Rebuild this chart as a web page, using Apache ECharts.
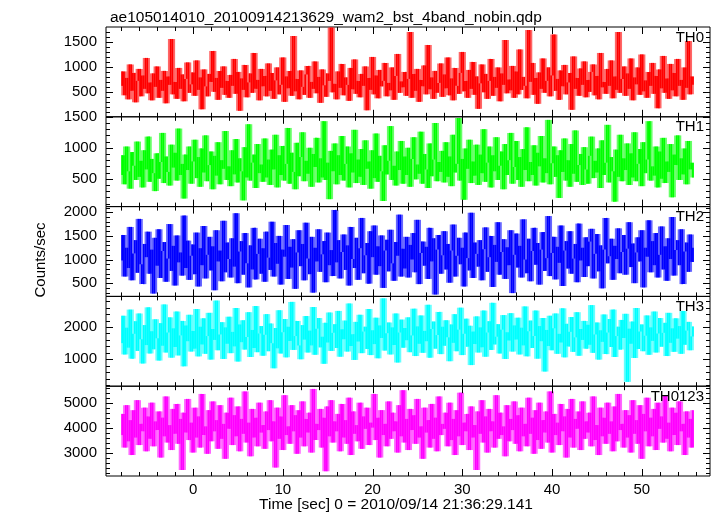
<!DOCTYPE html>
<html><head><meta charset="utf-8">
<script src="https://cdn.jsdelivr.net/npm/echarts@6/dist/echarts.min.js"></script>
<style>html,body{margin:0;padding:0;background:#fff}#c{width:717px;height:516px}</style>
</head><body><div id="c"></div>
<script>
const titleText = "ae105014010_20100914213629_wam2_bst_4band_nobin.qdp";
const xTitle = "Time [sec] 0 = 2010/09/14 21:36:29.141";
const yTitle = "Counts/sec";
const bandNames = ["TH0", "TH1", "TH2", "TH3", "TH0123"];
const tStart = -8, tStep = 0.2;

const th0 = [
620,910,430,780,350,1050,520,880,290,720,960,410,830,560,1180,470,690,330,870,600,
1010,380,740,520,920,270,810,640,1560,450,700,360,980,560,850,310,760,1090,480,650,
890,420,1130,540,790,150,950,610,410,860,700,1320,500,780,340,920,580,1010,440,720,
380,840,620,1160,460,900,120,770,540,1040,390,690,870,480,1280,560,740,330,960,610,
820,410,1070,520,880,360,730,990,450,640,1190,300,810,570,920,420,1620,510,760,350,
930,600,440,850,1020,380,700,560,1110,470,800,280,950,630,400,870,720,1790,490,660,
350,910,580,1060,430,790,640,320,980,550,1150,460,720,390,860,620,1010,130,780,540,
1200,450,830,370,940,610,720,1080,410,680,530,990,340,820,1260,480,710,590,900,420,
760,1700,380,860,520,960,300,740,610,1030,450,1440,550,790,360,920,480,680,1070,400,
850,570,1190,430,770,330,980,620,460,880,1300,510,720,380,940,560,1100,440,810,160,
670,1050,490,860,360,720,1160,420,800,580,990,310,870,640,1540,470,750,530,1020,380,
910,450,1350,540,800,620,370,1740,700,1080,440,780,260,890,560,1170,480,720,990,410,
830,1650,520,760,340,930,610,1040,450,690,880,140,1210,560,780,420,970,640,1110,390,
740,500,900,1050,430,820,350,1280,590,700,460,960,620,1130,370,810,540,1700,480,760,
1010,420,870,560,1170,330,790,650,990,440,1250,510,730,380,900,620,1080,460,820,170,
950,570,1220,480,770,360,1060,530,880,410,1160,620,740,340,990,580,1520,450,810,640];

const th1 = [
560,880,410,1020,620,340,930,710,480,1100,530,790,360,960,650,1180,450,820,590,300,
910,500,770,1240,430,860,610,390,1050,680,920,470,1310,560,740,180,890,640,1020,420,
780,1130,510,850,370,990,600,1200,460,720,940,330,870,550,1090,410,800,660,1270,480,
700,380,960,570,1140,440,830,620,150,1010,520,1380,470,760,890,350,1060,590,730,450,
1150,520,810,400,970,650,1210,360,880,560,1030,470,740,1320,420,920,610,330,1080,540,
850,1250,460,790,580,1000,370,900,690,1160,440,830,520,1430,480,760,170,950,620,1070,
410,880,560,1190,470,740,1020,360,910,600,1290,430,810,530,980,400,1120,660,780,340,
960,510,1230,450,870,620,140,1040,570,790,1350,480,710,390,940,640,1110,420,860,560,
1000,370,820,1170,490,730,580,1260,420,900,650,350,1070,540,810,1400,460,770,610,950,
440,1090,530,860,380,1210,600,740,1480,470,820,160,990,660,1130,430,780,550,1050,400,
890,590,1300,450,760,1020,360,880,620,1170,480,710,940,330,1060,560,800,1240,420,690,
1110,480,850,370,980,640,1330,460,770,560,1040,390,920,700,1190,440,830,590,1450,410,
750,1020,530,880,190,960,610,1150,470,800,370,1060,580,1280,450,720,900,400,1010,650,
420,870,1180,510,790,600,990,350,1120,560,760,1370,440,850,620,130,970,530,1210,460,
830,640,1070,400,910,520,1250,460,740,980,380,1090,590,810,1430,470,700,550,1020,360,
940,500,1160,430,780,610,1060,200,890,720,1200,480,830,570,990,410,1110,650,760,520];

const th2 = [
980,1520,640,1250,820,1690,560,1130,1410,720,1860,900,480,1330,1050,1590,700,1210,280,1460,
870,1640,610,1180,1370,530,1020,1750,760,1290,450,1510,940,1150,660,1930,820,1400,570,1080,
1320,690,1570,430,1240,880,1710,600,1100,1480,770,1280,350,1620,960,1190,540,1820,730,1360,
1010,620,1450,850,1980,500,1170,1390,680,1560,920,410,1300,790,1670,580,1120,1440,700,1240,
530,1590,1040,780,1800,640,1350,910,1500,470,1210,1060,1730,590,1270,830,1430,380,1150,1620,
860,1330,560,1780,1020,690,1480,300,1250,960,1640,740,1110,1390,520,1570,880,1200,650,2050,
940,1410,600,1160,1530,780,1300,450,1690,1010,820,1460,570,1240,1880,710,1090,1350,490,1600,
1050,1720,680,1280,860,1510,400,1190,1420,750,1630,920,550,1370,1080,1950,640,1230,810,1480,
620,1310,1000,1560,730,1840,480,1140,1380,870,1270,590,1670,960,1450,260,1210,1520,700,1090,
1600,790,1330,510,1190,1740,640,1080,1460,900,1250,430,1570,1030,770,1990,610,1360,1120,850,
1410,560,1220,1680,740,1050,1500,420,1310,950,1790,680,1160,1430,590,1260,880,1620,290,1100,
1550,830,1290,620,1850,1000,710,1440,540,1180,1670,890,1350,470,1210,1580,760,1030,1920,650,
1140,1480,580,1270,930,1720,440,1190,1390,810,1600,700,1020,1330,520,1760,980,1250,630,1470,
860,1380,1650,600,1120,1540,750,1300,390,1210,1880,920,1070,1440,570,1290,1010,1660,710,1160,
1520,680,1230,1790,840,1340,500,1150,1470,960,1620,410,1250,1060,1830,730,1390,880,1560,620,
1100,1700,790,1280,550,1450,1010,1900,660,1200,1410,880,1640,480,1170,1360,740,1530,950,1250];

const th3 = [
1500,2350,1150,1980,1360,2540,1020,1790,2180,1260,2420,1620,870,2060,1440,2610,1180,1870,1310,2240,
1650,960,2120,1420,2700,1210,1830,2300,1050,1960,1380,2480,1120,1740,2190,780,2050,1560,2380,1240,
1880,1330,2560,1090,2010,1460,2270,1170,1720,2440,990,1940,1600,2820,1280,1770,2150,1010,1990,1480,
2320,1190,1850,1400,2590,930,2080,1530,2210,1300,1690,2460,1070,1910,1350,2650,1220,1800,2030,1110,
1760,2400,1250,2110,1500,720,1970,1340,2520,1180,1840,2250,1060,2010,1570,2780,1290,1720,2190,1430,
1000,2060,1610,2340,1210,1890,1430,2620,1140,1950,2280,1370,1700,860,2130,1520,2450,1260,1820,2090,
1350,2500,1080,1930,1620,2200,1240,2730,1410,1780,980,2160,1550,2380,1190,1860,2010,1320,2560,1130,
1900,1470,2290,1030,2050,1660,2890,1270,1810,2140,1150,1990,1440,2420,900,1830,2230,1360,1970,1590,
2300,1220,1740,2570,1100,2020,1480,2360,1200,1880,1560,2690,1050,1940,2170,1330,1750,2470,1160,2010,
1420,2210,1680,940,2080,1510,2400,1250,1920,2600,1130,1790,2260,1390,2040,820,1860,1470,2330,1210,
1990,1370,2510,1080,1830,2180,1290,2750,1460,1700,2090,1180,1920,2370,1010,1840,1580,2430,1240,2050,
1610,2290,1150,1980,1430,2640,1090,1870,2200,1350,1720,2510,1020,2030,1560,2280,620,1910,1410,2350,
1280,1960,2420,1170,1790,1520,2580,1060,2100,1400,1850,2310,1230,1680,2460,1110,1940,1600,2190,1330,
2070,1450,2680,1200,1770,2140,990,1900,1540,2390,1160,1830,2250,1380,2540,1070,1720,2010,1300,2220,
1660,2410,300,1950,1480,2170,1040,2590,1320,1860,2080,1250,1730,2360,1140,1990,1570,2480,1210,1800,
2280,1390,1820,2130,1100,2440,1510,1960,1230,2270,1640,2030,1170,2500,1450,1890,2160,1280,1710,2020];

const th0123 = [
3700,4550,3200,4900,3450,4300,2900,4700,3600,5100,3300,4150,3850,4800,3050,4450,3550,5000,3250,4250,
3900,4650,2800,4400,3650,5250,3400,4100,3100,4750,3750,4950,3350,4350,2300,4600,3800,5150,3500,4200,
3000,4800,3600,4450,3200,5350,3700,4050,2950,4700,3450,5050,3850,4300,3150,4900,3550,4150,2750,4600,
3950,5200,3300,4500,3650,4850,3050,4350,3750,5450,3400,4200,2850,4750,3600,4400,3250,5000,3800,4100,
3150,4650,3900,5100,3450,4250,2400,4800,3550,4450,3100,5300,3700,4050,3350,4900,3850,4500,2950,4700,
3600,5050,3250,4350,3800,4600,3000,5550,3500,4150,3900,4750,3200,4400,2250,4850,3650,5100,3400,4250,
3850,4550,3050,4950,3600,4300,3350,5200,2900,4650,3750,4100,3450,5000,3150,4450,3950,4800,3300,4200,
4000,5350,3500,4400,2800,4700,3700,4150,3250,5050,3550,4600,3850,4250,3000,4900,3650,5500,3400,4350,
3100,4750,3900,4500,3350,5150,3600,4050,2750,4800,3800,4300,3200,4950,3550,4400,3050,5250,3700,4150,
3950,4600,3250,5000,3500,4350,2900,4700,3650,5400,3300,4200,3850,4550,3100,4850,3600,4100,2300,4650,
3750,5100,3400,4450,3000,4750,3850,4250,3200,5300,3550,4600,3700,4050,2850,4900,3450,4350,3900,5050,
3350,4500,3050,4800,3650,4150,3250,5200,3750,4400,2950,4700,3500,5000,3150,4300,3800,4650,3400,5450,
3000,4550,3700,4200,3300,4950,3850,4450,2800,4750,3600,5150,3200,4350,3950,4650,3100,5050,3550,4250,
3800,4600,3250,5250,3500,4100,2900,4800,3650,4400,3350,5000,3750,4250,3050,4850,3450,5350,3900,4150,
3200,4700,3600,4500,3000,5100,3750,4300,3350,4900,2750,4550,3850,5200,3250,4400,3650,4750,3100,5000,
3950,4450,3400,5300,3550,4200,3050,4800,3700,4600,3300,5050,3850,4150,2900,4650,3600,4350,3200,4700];

// axis ranges
const xMin = -9.7, xMax = 57.6;
const yMin = [0, 50, 220, 165, 2060];
const yMax = [1800, 1500, 2120, 2950, 5660];
// tick sets: [first, last, step]
const xMajorTicks = [0, 50, 10];
const xMinorTicks = [-8, 56, 2];
const yMajorTicks = [[500, 1500, 500], [500, 1500, 500], [500, 2000, 500], [1000, 2000, 1000], [3000, 5000, 1000]];
const yMinorTicks = [[100, 1700, 100], [100, 1500, 100], [300, 2100, 100], [200, 2800, 200], [2200, 5600, 200]];
const colors = ['#ff0000', '#00ff00', '#0000ff', '#00ffff', '#ff00ff'];
const fringeColors = ['rgba(255,0,0,0.6)', 'rgba(0,255,0,0.6)', 'rgba(0,0,255,0.6)', 'rgba(0,255,255,0.6)', 'rgba(255,0,255,0.6)'];

const bands = [th0, th1, th2, th3, th0123];
const times = th0.map((_, k) => +(tStart + k * tStep).toFixed(3));

const font = "'Liberation Sans', Helvetica, Arial, sans-serif";
const gl = 106, gr = 710, gt = 27, gb = 476;
const ph = (gb - gt) / 5;
const black = '#000';
const fmt = v => String(v);
const MAJOR = 7, MINOR = 4;

function tickList(tk) {
  const out = [];
  for (let v = tk[0]; v <= tk[1] + 1e-9; v += tk[2]) out.push(Math.round(v * 1000) / 1000);
  return out;
}
const xMajorVals = tickList(xMajorTicks);
const xMinorVals = tickList(xMinorTicks);

function columnItem(color) {
  return function (params, api) {
    const t0 = api.value(0), t1 = api.value(1), a = api.value(2), b = api.value(3);
    const p1 = api.coord([t0, Math.max(a, b)]);
    const p2 = api.coord([t1, Math.min(a, b)]);
    const cs = params.coordSys;
    const r = echarts.graphic.clipRectByRect(
      { x: p1[0], y: p1[1], width: p2[0] - p1[0], height: Math.max(p2[1] - p1[1], 1) },
      { x: cs.x, y: cs.y, width: cs.width, height: cs.height });
    return r ? { type: 'rect', shape: r, style: { fill: color } } : null;
  };
}
function xTickItem(params, api) {
  const cs = params.coordSys;
  const x = Math.round(api.coord([api.value(0), 0])[0]) + 0.5;
  const len = api.value(1);
  const yb = cs.y + cs.height, yt = cs.y;
  return { type: 'group', children: [
    { type: 'line', shape: { x1: x, y1: yb, x2: x, y2: yb - len }, style: { stroke: black, lineWidth: 1 } },
    { type: 'line', shape: { x1: x, y1: yt, x2: x, y2: yt + len }, style: { stroke: black, lineWidth: 1 } }] };
}
function yTickItem(params, api) {
  const cs = params.coordSys;
  const y = Math.round(api.coord([0, api.value(1)])[1]) + 0.5;
  const len = api.value(0);
  const xl = cs.x, xr = cs.x + cs.width;
  return { type: 'group', children: [
    { type: 'line', shape: { x1: xl, y1: y, x2: xl + len, y2: y }, style: { stroke: black, lineWidth: 1 } },
    { type: 'line', shape: { x1: xr, y1: y, x2: xr - len, y2: y }, style: { stroke: black, lineWidth: 1 } }] };
}

const grids = [], xAxes = [], yAxes = [], series = [], graphics = [];

for (let i = 0; i < 5; i++) {
  const top = gt + i * ph;
  const vals = bands[i];
  grids.push({ left: gl, top: top, width: gr - gl, height: ph, show: true, borderColor: black, borderWidth: 1, backgroundColor: 'transparent' });
  xAxes.push({ gridIndex: i, type: 'value', min: xMin, max: xMax, position: 'bottom',
    splitLine: { show: false }, axisLine: { show: false, onZero: false }, axisTick: { show: false },
    axisLabel: { show: i === 4, customValues: xMajorVals, formatter: fmt, margin: 6, fontSize: 15, color: black, fontFamily: font } });
  const yMaj = tickList(yMajorTicks[i]);
  yAxes.push({ gridIndex: i, type: 'value', min: yMin[i], max: yMax[i], position: 'left',
    splitLine: { show: false }, axisLine: { show: false, onZero: false }, axisTick: { show: false },
    axisLabel: { show: true, customValues: yMaj, formatter: fmt, margin: 9, fontSize: 15, color: black, fontFamily: font } });

  series.push({
    type: 'custom', xAxisIndex: i, yAxisIndex: i, renderItem: columnItem(fringeColors[i]),
    encode: { x: [0, 1], y: [2, 3] }, animation: false, z: 1, silent: true,
    data: times.slice(0, -1).map((t, k) => {
      const w = [vals[k - 1], vals[k], vals[k + 1], vals[k + 2]].filter(v => v !== undefined);
      return [t, times[k + 1], Math.min(...w), Math.max(...w)];
    })
  });
  series.push({
    type: 'custom', name: bandNames[i], xAxisIndex: i, yAxisIndex: i, renderItem: columnItem(colors[i]),
    encode: { x: [0, 1], y: [2, 3] }, animation: false, z: 2,
    data: times.slice(0, -1).map((t, k) => [t, times[k + 1], vals[k], vals[k + 1]])
  });
  series.push({
    type: 'custom', xAxisIndex: i, yAxisIndex: i, renderItem: xTickItem, encode: { x: 0 },
    animation: false, z: 5, silent: true, clip: false,
    data: xMinorVals.map(v => [v, MINOR]).concat(xMajorVals.map(v => [v, MAJOR]))
  });
  series.push({
    type: 'custom', xAxisIndex: i, yAxisIndex: i, renderItem: yTickItem, encode: { y: 1 },
    animation: false, z: 5, silent: true, clip: false,
    data: tickList(yMinorTicks[i]).map(v => [MINOR, v]).concat(yMaj.map(v => [MAJOR, v]))
  });
  graphics.push({ type: 'text', right: 717 - 704, top: top + 3, z: 10,
    style: { text: bandNames[i], font: '15px ' + font, fill: black } });
}
graphics.push({ type: 'text', x: 41, y: 260, rotation: Math.PI / 2,
  style: { text: yTitle, font: '15px ' + font, fill: black, textAlign: 'center', textVerticalAlign: 'middle' } });
graphics.push({ type: 'text', x: 396, y: 505,
  style: { text: xTitle, font: '15.5px ' + font, fill: black, textAlign: 'center', textVerticalAlign: 'middle' } });

const chart = echarts.init(document.getElementById('c'), null, { renderer: 'canvas' });
chart.setOption({
  animation: false,
  title: { text: titleText, left: 105, top: 5, textStyle: { fontSize: 15.5, fontWeight: 'normal', color: black, fontFamily: font } },
  grid: grids, xAxis: xAxes, yAxis: yAxes, series: series, graphic: graphics
});
</script></body></html>
